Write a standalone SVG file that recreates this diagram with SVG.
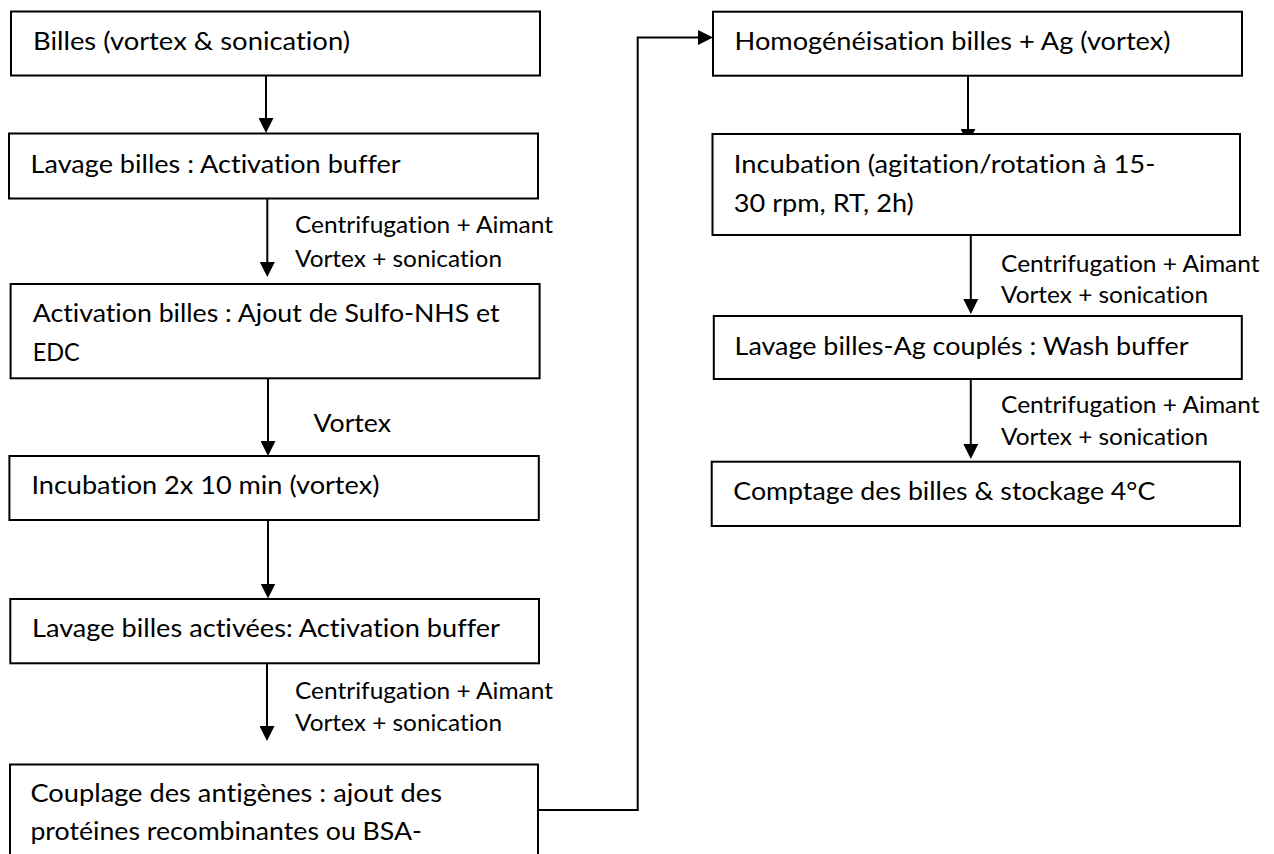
<svg xmlns="http://www.w3.org/2000/svg" width="1274" height="854" viewBox="0 0 1274 854">
<style>
.box{fill:#fff;stroke:#000;stroke-width:2}
.t{font-family:Lato,"Liberation Sans",sans-serif;font-size:24.5px;fill:#000;font-variant-ligatures:none}
.l{font-family:Lato,"Liberation Sans",sans-serif;font-size:22.3px;fill:#000;font-variant-ligatures:none}
.c{fill:none;stroke:#000;stroke-width:2}
</style>
<defs>
<marker id="ah" markerUnits="userSpaceOnUse" markerWidth="15" markerHeight="15" viewBox="0 0 15 15" refX="11" refY="7.5" orient="auto">
<path d="M0,0 L15,7.5 L0,15 Z" fill="#000"/>
</marker>
</defs>
<rect width="1274" height="854" fill="#fff"/>
<g id="connectors">
<line class="c" x1="266" y1="75.5" x2="266" y2="129" marker-end="url(#ah)"/>
<line class="c" x1="267.3" y1="198" x2="267.3" y2="273" marker-end="url(#ah)"/>
<line class="c" x1="268" y1="378" x2="268" y2="452" marker-end="url(#ah)"/>
<line class="c" x1="268" y1="520" x2="268" y2="594.5" marker-end="url(#ah)"/>
<line class="c" x1="267" y1="663" x2="267" y2="737" marker-end="url(#ah)"/>
<polyline class="c" points="538,810 637.7,810 637.7,37.5 709,37.5" marker-end="url(#ah)"/>
<line class="c" x1="968" y1="75.7" x2="968" y2="139.7" marker-end="url(#ah)"/>
<line class="c" x1="970.8" y1="235" x2="970.8" y2="310" marker-end="url(#ah)"/>
<line class="c" x1="970.8" y1="379" x2="970.8" y2="455" marker-end="url(#ah)"/>
</g>
<g id="labels">
<text class="l" x="295" y="233" textLength="258" lengthAdjust="spacingAndGlyphs">Centrifugation + Aimant</text>
<text class="l" x="295" y="266.7" textLength="207" lengthAdjust="spacingAndGlyphs">Vortex + sonication</text>
<text class="t" x="313.5" y="431.7" textLength="77.5" lengthAdjust="spacingAndGlyphs">Vortex</text>
<text class="l" x="295" y="699.3" textLength="258" lengthAdjust="spacingAndGlyphs">Centrifugation + Aimant</text>
<text class="l" x="295" y="730.7" textLength="207" lengthAdjust="spacingAndGlyphs">Vortex + sonication</text>
<text class="l" x="1001" y="271.7" textLength="258.6" lengthAdjust="spacingAndGlyphs">Centrifugation + Aimant</text>
<text class="l" x="1001" y="303.3" textLength="207" lengthAdjust="spacingAndGlyphs">Vortex + sonication</text>
<text class="l" x="1001" y="413.3" textLength="258.6" lengthAdjust="spacingAndGlyphs">Centrifugation + Aimant</text>
<text class="l" x="1001" y="445" textLength="207" lengthAdjust="spacingAndGlyphs">Vortex + sonication</text>
</g>
<g id="n1">
<rect class="box" x="11" y="11.5" width="529" height="64"/>
<text class="t" x="33" y="50" textLength="317" lengthAdjust="spacingAndGlyphs">Billes (vortex &amp; sonication)</text>
</g>
<g id="n2">
<rect class="box" x="9" y="133.5" width="529" height="65"/>
<text class="t" x="30.6" y="172.7" textLength="370" lengthAdjust="spacingAndGlyphs">Lavage billes : Activation buffer</text>
</g>
<g id="n3">
<rect class="box" x="10.6" y="284" width="529" height="94.3"/>
<text class="t" x="32.7" y="321.7" textLength="467" lengthAdjust="spacingAndGlyphs">Activation billes : Ajout de Sulfo-NHS et</text>
<text class="t" x="32.7" y="361" textLength="47" lengthAdjust="spacingAndGlyphs">EDC</text>
</g>
<g id="n4">
<rect class="box" x="9.4" y="456" width="529.4" height="64"/>
<text class="t" x="31.4" y="494.3" textLength="348" lengthAdjust="spacingAndGlyphs">Incubation 2x 10 min (vortex)</text>
</g>
<g id="n5">
<rect class="box" x="10.3" y="599" width="528.7" height="64.3"/>
<text class="t" x="32" y="637.3" textLength="468" lengthAdjust="spacingAndGlyphs">Lavage billes activées: Activation buffer</text>
</g>
<g id="n6">
<rect class="box" x="10" y="764.5" width="528" height="100"/>
<text class="t" x="30.4" y="801.7" textLength="411.6" lengthAdjust="spacingAndGlyphs">Couplage des antigènes : ajout des</text>
<text class="t" x="30.4" y="840" textLength="391.6" lengthAdjust="spacingAndGlyphs">protéines recombinantes ou BSA-</text>
</g>
<g id="n7">
<rect class="box" x="713" y="11.7" width="529" height="64"/>
<text class="t" x="734.6" y="50" textLength="436" lengthAdjust="spacingAndGlyphs">Homogénéisation billes + Ag (vortex)</text>
</g>
<g id="n8">
<rect class="box" x="712.5" y="134" width="527.5" height="101"/>
<text class="t" x="733.8" y="173.3" textLength="421.6" lengthAdjust="spacingAndGlyphs">Incubation (agitation/rotation à 15-</text>
<text class="t" x="733.8" y="211.7" textLength="180" lengthAdjust="spacingAndGlyphs">30 rpm, RT, 2h)</text>
</g>
<g id="n9">
<rect class="box" x="713.8" y="316" width="528" height="63"/>
<text class="t" x="734.6" y="355" textLength="454" lengthAdjust="spacingAndGlyphs">Lavage billes-Ag couplés : Wash buffer</text>
</g>
<g id="n10">
<rect class="box" x="711.7" y="461.7" width="528.3" height="64.3"/>
<text class="t" x="733.3" y="500" textLength="422" lengthAdjust="spacingAndGlyphs">Comptage des billes &amp; stockage 4°C</text>
</g>
</svg>
